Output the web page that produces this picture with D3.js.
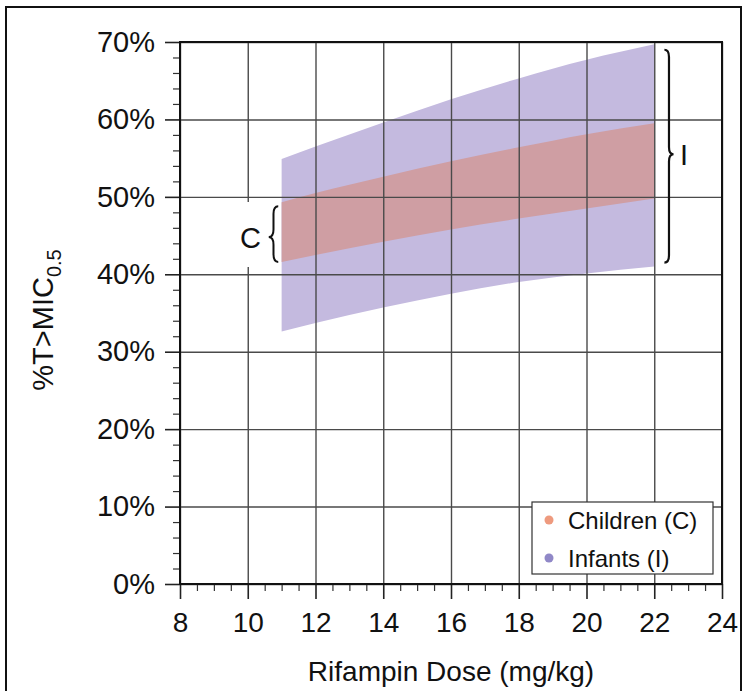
<!DOCTYPE html>
<html>
<head>
<meta charset="utf-8">
<script src="https://cdn.jsdelivr.net/npm/d3@7"></script>
<style>
  body { margin: 0; background: #fff; }
  svg { display: block; font-family: "Liberation Sans", Arial, sans-serif; }
</style>
</head>
<body>
<div id="chart"></div>
<script>
// dose grid (mg/kg) where the bands were read
var doses = [11, 12, 14, 16, 18, 20, 22];
// %T>MIC0.5 ranges
var infantsUpper = [54.9, 56.5, 59.6, 62.6, 65.3, 67.7, 69.7];
var infantsLower = [32.6, 33.7, 35.7, 37.5, 39.0, 40.1, 41.0];
var childrenUpper = [49.3, 50.5, 52.6, 54.6, 56.4, 58.1, 59.5];
var childrenLower = [41.6, 42.5, 44.2, 45.8, 47.2, 48.5, 49.8];

var xTicks = [8, 10, 12, 14, 16, 18, 20, 22, 24];
var yTicks = [0, 10, 20, 30, 40, 50, 60, 70];
var legendLabels = ["Children (C)", "Infants (I)"];

var svg_width = 744, svg_height = 691;
var plot_left = 180, plot_right = 722, plot_top = 42, plot_bottom = 584;

var svg = d3.select('#chart')
  .append('svg')
  .attr('width', svg_width)
  .attr('height', svg_height);

// outer frame
svg.append('rect')
  .attr('x', 6).attr('y', 7)
  .attr('width', 735).attr('height', 700)
  .attr('fill', 'none')
  .attr('stroke', '#111')
  .attr('stroke-width', 2);

var x = d3.scaleLinear().domain([8, 24]).range([plot_left, plot_right]);
var y = d3.scaleLinear().domain([0, 70]).range([plot_bottom, plot_top]);

var infants = doses.map(function(d, i) { return {dose: d, lo: infantsLower[i], hi: infantsUpper[i]}; });
var children = doses.map(function(d, i) { return {dose: d, lo: childrenLower[i], hi: childrenUpper[i]}; });

var area = d3.area()
  .curve(d3.curveMonotoneX)
  .x(function(d) { return x(d.dose); })
  .y0(function(d) { return y(d.lo); })
  .y1(function(d) { return y(d.hi); });

svg.append('path').datum(infants).attr('d', area).attr('fill', '#c4badf');
svg.append('path').datum(children).attr('d', area).attr('fill', '#cf9ea3');

// grid
svg.append('g')
  .attr('transform', 'translate(0,' + plot_bottom + ')')
  .call(d3.axisBottom(x).tickValues(xTicks).tickSize(-(plot_bottom - plot_top)).tickFormat(''))
  .call(function(g) { g.select('.domain').remove(); })
  .selectAll('line').attr('stroke', '#4a4a4a').attr('stroke-width', 1.4);

svg.append('g')
  .attr('transform', 'translate(' + plot_left + ',0)')
  .call(d3.axisLeft(y).tickValues(yTicks).tickSize(-(plot_right - plot_left)).tickFormat(''))
  .call(function(g) { g.select('.domain').remove(); })
  .selectAll('line').attr('stroke', '#4a4a4a').attr('stroke-width', 1.4);

// white patch behind the C label
svg.append('rect')
  .attr('x', 234).attr('y', 202)
  .attr('width', 31).attr('height', 65)
  .attr('fill', '#fff');

// minor ticks
var xMinor = d3.range(8, 24.01, 0.5).filter(function(v) { return v % 2 !== 0; });
var yMinor = d3.range(0, 70.01, 2).filter(function(v) { return v % 10 !== 0; });

svg.append('g')
  .attr('transform', 'translate(0,' + plot_bottom + ')')
  .call(d3.axisBottom(x).tickValues(xMinor).tickSize(7).tickFormat(''))
  .call(function(g) { g.select('.domain').remove(); })
  .selectAll('line').attr('stroke', '#333').attr('stroke-width', 1.2);

svg.append('g')
  .attr('transform', 'translate(' + plot_left + ',0)')
  .call(d3.axisLeft(y).tickValues(yMinor).tickSize(7).tickFormat(''))
  .call(function(g) { g.select('.domain').remove(); })
  .selectAll('line').attr('stroke', '#333').attr('stroke-width', 1.2);

// major ticks + labels
var xAxis = svg.append('g')
  .attr('transform', 'translate(0,' + plot_bottom + ')')
  .call(d3.axisBottom(x).tickValues(xTicks).tickSize(15).tickPadding(13).tickFormat(d3.format('d')));
xAxis.select('.domain').remove();
xAxis.selectAll('line').attr('stroke', '#222').attr('stroke-width', 1.6);
xAxis.selectAll('text').attr('font-size', 28).attr('fill', '#111')
  .attr('font-family', '"Liberation Sans", Arial, sans-serif');

var yAxis = svg.append('g')
  .attr('transform', 'translate(' + plot_left + ',0)')
  .call(d3.axisLeft(y).tickValues(yTicks).tickSize(15).tickPadding(10).tickFormat(function(d) { return d + '%'; }));
yAxis.select('.domain').remove();
yAxis.selectAll('line').attr('stroke', '#222').attr('stroke-width', 1.6);
yAxis.selectAll('text').attr('font-size', 29).attr('fill', '#111')
  .attr('font-family', '"Liberation Sans", Arial, sans-serif');

// plot frame
svg.append('rect')
  .attr('x', plot_left).attr('y', plot_top)
  .attr('width', plot_right - plot_left).attr('height', plot_bottom - plot_top)
  .attr('fill', 'none')
  .attr('stroke', '#111')
  .attr('stroke-width', 2);

// braces
function brace(x0, tipX, y1, y2, ym) {
  var sx = (x0 + tipX) / 2;
  var r = Math.abs(tipX - x0) * 0.8;
  return 'M' + x0 + ',' + y1 +
    'Q' + sx + ',' + y1 + ' ' + sx + ',' + (y1 + r) +
    'L' + sx + ',' + (ym - r) +
    'Q' + sx + ',' + ym + ' ' + tipX + ',' + ym +
    'Q' + sx + ',' + ym + ' ' + sx + ',' + (ym + r) +
    'L' + sx + ',' + (y2 - r) +
    'Q' + sx + ',' + y2 + ' ' + x0 + ',' + y2;
}

svg.append('path')
  .attr('d', brace(x(22.3), x(22.57), y(69), y(41.5), y(55.5)))
  .attr('fill', 'none').attr('stroke', '#111').attr('stroke-width', 2.2);
svg.append('text')
  .attr('x', x(22.88)).attr('y', y(55.5))
  .attr('dy', '0.36em')
  .attr('text-anchor', 'middle')
  .attr('font-size', 29)
  .attr('fill', '#111')
  .text('I');

svg.append('path')
  .attr('d', brace(x(10.9), x(10.62), y(48.8), y(41.6), y(44.8)))
  .attr('fill', 'none').attr('stroke', '#111').attr('stroke-width', 2);
svg.append('text')
  .attr('x', x(10.08)).attr('y', y(44.8))
  .attr('dy', '0.36em')
  .attr('text-anchor', 'middle')
  .attr('font-size', 29)
  .attr('fill', '#111')
  .text('C');

// axis titles
svg.append('text')
  .attr('x', (plot_left + plot_right) / 2)
  .attr('y', 681)
  .attr('text-anchor', 'middle')
  .attr('font-size', 28)
  .attr('fill', '#111')
  .text('Rifampin Dose (mg/kg)');

var yt = svg.append('text')
  .attr('transform', 'translate(53,320) rotate(-90)')
  .attr('text-anchor', 'middle')
  .attr('font-size', 29)
  .attr('fill', '#111');
yt.append('tspan').text('%T>MIC');
yt.append('tspan').attr('font-size', 20).attr('dy', 8).text('0.5');

// legend
var legend = svg.append('g');
legend.append('rect')
  .attr('x', 532).attr('y', 502)
  .attr('width', 181).attr('height', 72)
  .attr('fill', '#fff')
  .attr('stroke', '#333')
  .attr('stroke-width', 1.2);

var legendColors = ['#ee9a7e', '#9088c7'];
legendLabels.forEach(function(lbl, i) {
  var cy = 520 + i * 38;
  legend.append('circle')
    .attr('cx', 549).attr('cy', cy).attr('r', 4.5)
    .attr('fill', legendColors[i]);
  legend.append('text')
    .attr('x', 568).attr('y', cy)
    .attr('dy', '0.36em')
    .attr('font-size', 24)
    .attr('fill', '#111')
    .text(lbl);
});
</script>
</body>
</html>
